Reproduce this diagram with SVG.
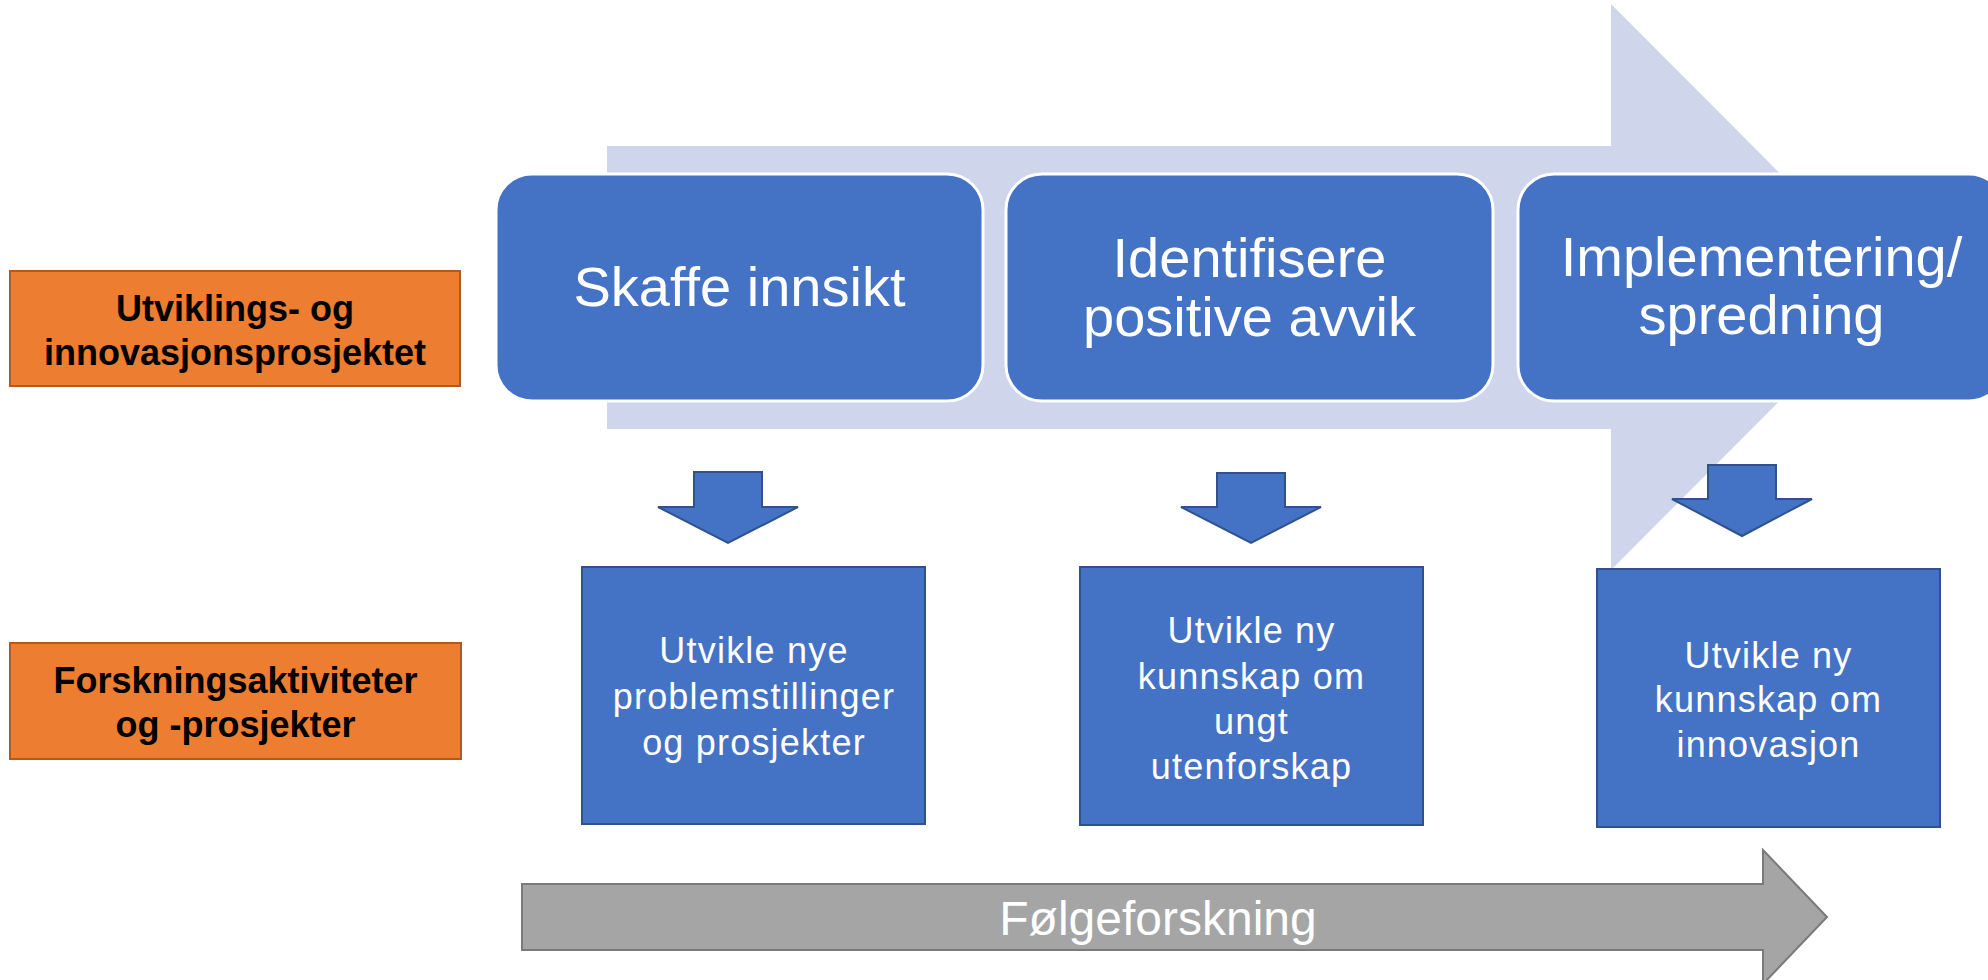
<svg xmlns="http://www.w3.org/2000/svg" width="1988" height="980" viewBox="0 0 1988 980">
<style>
.step{fill:#4472C4;stroke:#FFFFFF;stroke-width:3}
.res{fill:#4472C4;stroke:#2F528F;stroke-width:2}
.dn{fill:#4472C4;stroke:#2F528F;stroke-width:2;stroke-linejoin:miter}
.lab{fill:#ED7D31;stroke:#AE5A21;stroke-width:2}
.big{font-family:"Liberation Sans",Arial,sans-serif;font-size:56px;fill:#FFFFFF;text-anchor:middle}
.small{font-family:"Liberation Sans",Arial,sans-serif;font-size:36px;fill:#FFFFFF;text-anchor:middle;letter-spacing:1.2px}
.labt{font-family:"Liberation Sans",Arial,sans-serif;font-size:36px;font-weight:bold;fill:#000000;text-anchor:middle}
.gt{font-family:"Liberation Sans",Arial,sans-serif;font-size:48px;fill:#FFFFFF;text-anchor:middle}
</style>
<rect width="1988" height="980" fill="#FFFFFF"/>
<g id="process-arrow">
<polygon points="607,146 1611,146 1611,4 1893,287 1611,570 1611,429 607,429" fill="#CFD5EA"/>
</g>
<g id="step-skaffe">
<rect class="step" x="496" y="174" width="487" height="227" rx="36" ry="36"/>
<text class="big" x="739.5" y="306">Skaffe innsikt</text>
</g>
<g id="step-identifisere">
<rect class="step" x="1006" y="174" width="487" height="227" rx="36" ry="36"/>
<text class="big" x="1249.5" y="277">Identifisere</text>
<text class="big" x="1249.5" y="336">positive avvik</text>
</g>
<g id="step-implementering">
<rect class="step" x="1518" y="174" width="487" height="227" rx="36" ry="36"/>
<text class="big" x="1761.5" y="276">Implementering/</text>
<text class="big" x="1761.5" y="334">spredning</text>
</g>
<g id="label-utvikling">
<rect class="lab" x="10" y="271" width="450" height="115"/>
<text class="labt" x="235" y="321">Utviklings- og</text>
<text class="labt" x="235" y="365">innovasjonsprosjektet</text>
</g>
<g id="label-forskning">
<rect class="lab" x="10" y="643" width="451" height="116"/>
<text class="labt" x="235.5" y="693">Forskningsaktiviteter</text>
<text class="labt" x="235.5" y="737">og -prosjekter</text>
</g>
<g id="connectors">
<polygon class="dn" points="694,472 762,472 762,507 798,507 728,543 658,507 694,507"/>
<polygon class="dn" points="1217,473 1285,473 1285,507 1321,507 1251,543 1181,507 1217,507"/>
<polygon class="dn" points="1708,465 1776,465 1776,499 1812,499 1742,536 1672,499 1708,499"/>
</g>
<g id="result-problemstillinger">
<rect class="res" x="582" y="567" width="343" height="257"/>
<text class="small" x="754" y="663">Utvikle nye</text>
<text class="small" x="754" y="709">problemstillinger</text>
<text class="small" x="754" y="755">og prosjekter</text>
</g>
<g id="result-utenforskap">
<rect class="res" x="1080" y="567" width="343" height="258"/>
<text class="small" x="1251.5" y="643">Utvikle ny</text>
<text class="small" x="1251.5" y="689">kunnskap om</text>
<text class="small" x="1251.5" y="734">ungt</text>
<text class="small" x="1251.5" y="779">utenforskap</text>
</g>
<g id="result-innovasjon">
<rect class="res" x="1597" y="569" width="343" height="258"/>
<text class="small" x="1768.5" y="668">Utvikle ny</text>
<text class="small" x="1768.5" y="712">kunnskap om</text>
<text class="small" x="1768.5" y="757">innovasjon</text>
</g>
<g id="folgeforskning">
<polygon points="522,884 1763,884 1763,850 1827,917 1763,984 1763,950 522,950" fill="#A5A5A5" stroke="#7A7A7A" stroke-width="2"/>
<text class="gt" x="1158" y="935">Følgeforskning</text>
</g>
</svg>
